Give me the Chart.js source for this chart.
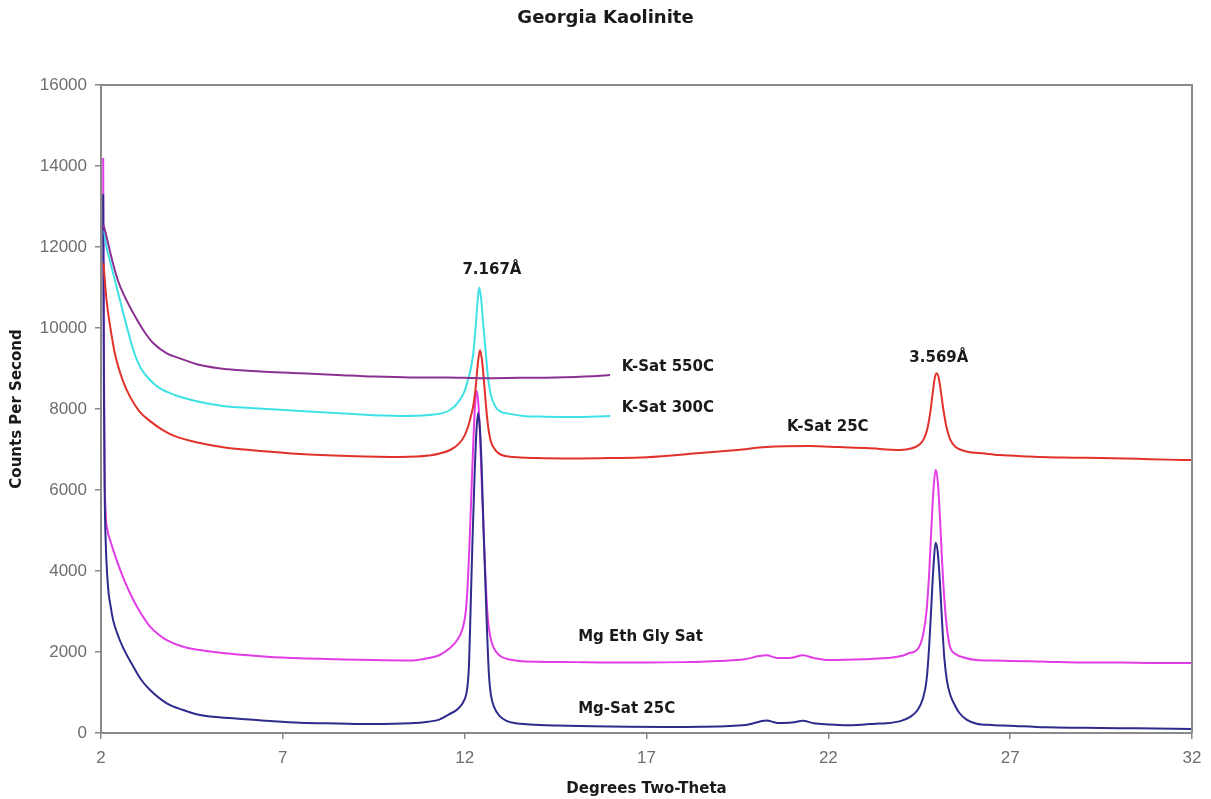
<!DOCTYPE html>
<html>
<head>
<meta charset="utf-8">
<script src="https://cdn.jsdelivr.net/npm/chart.js@4.4.0/dist/chart.umd.min.js"></script>
<style>
html,body{margin:0;padding:0;background:#ffffff;}
canvas{display:block;}
</style>
</head>
<body>
<canvas id="c" width="1211" height="799"></canvas>
<script>
// ---- texts ----
const chartTitle = "Georgia Kaolinite";
const xAxisTitle = "Degrees Two-Theta";
const yAxisTitle = "Counts Per Second";

// ---- tick labels ----
const xTicks = [2, 7, 12, 17, 22, 27, 32];
const yTicks = [0, 2000, 4000, 6000, 8000, 10000, 12000, 14000, 16000];

// ---- series: Mg-Sat 25C ----
const mgSat25X = [2.06, 2.08, 2.1, 2.13, 2.17, 2.21, 2.26, 2.33, 2.43, 2.61, 2.89, 3.1, 3.35, 3.81, 4.26, 4.72, 5.63, 6.56, 7.47, 8.5, 9.5, 10.5, 11.0, 11.3, 11.57, 11.82, 11.97, 12.07, 12.12, 12.17, 12.22, 12.27, 12.32, 12.37, 12.42, 12.47, 12.52, 12.57, 12.62, 12.67, 12.72, 12.82, 12.95, 13.15, 13.4, 13.8, 14.5, 15.5, 16.5, 17.5, 18.5, 19.3, 19.8, 20.1, 20.3, 20.6, 21.0, 21.3, 21.6, 22.0, 22.5, 23.0, 23.3, 23.6, 24.0, 24.25, 24.45, 24.6, 24.7, 24.77, 24.83, 24.89, 24.95, 25.01, 25.07, 25.13, 25.19, 25.26, 25.35, 25.5, 25.6, 25.8, 26.08, 26.5, 27.0, 28.0, 29.0, 30.0, 31.0, 32.0];
const mgSat25Y = [13300, 8500, 6000, 4700, 3900, 3450, 3150, 2800, 2500, 2100, 1637, 1320, 1062, 733, 568, 444, 363, 304, 255, 235, 220, 240, 280, 330, 460, 600, 780, 1100, 1700, 3300, 4900, 6300, 7400, 7900, 7500, 6500, 5000, 3700, 2400, 1400, 950, 620, 430, 300, 240, 210, 185, 165, 155, 150, 155, 175, 210, 280, 310, 250, 260, 300, 240, 210, 190, 210, 230, 240, 300, 400, 560, 850, 1300, 2100, 3100, 4100, 4700, 4450, 3700, 2700, 1850, 1300, 950, 650, 500, 330, 230, 200, 180, 140, 130, 120, 110, 100];

// ---- series: Mg Eth Gly Sat ----
const mgEthGlyX = [2.06, 2.08, 2.1, 2.13, 2.18, 2.25, 2.43, 2.65, 2.89, 3.1, 3.35, 3.6, 3.81, 4.26, 4.72, 5.63, 6.56, 7.47, 8.5, 9.5, 10.5, 11.0, 11.3, 11.57, 11.8, 11.95, 12.03, 12.08, 12.13, 12.18, 12.23, 12.28, 12.33, 12.38, 12.43, 12.48, 12.53, 12.58, 12.63, 12.7, 12.8, 12.95, 13.2, 13.5, 14.0, 15.0, 16.0, 17.0, 18.0, 19.0, 19.7, 20.1, 20.3, 20.6, 21.0, 21.3, 21.6, 22.0, 23.0, 23.6, 24.0, 24.25, 24.44, 24.6, 24.7, 24.77, 24.83, 24.89, 24.95, 25.01, 25.07, 25.13, 25.19, 25.26, 25.34, 25.5, 25.7, 26.08, 26.5, 27.0, 28.0, 29.0, 30.0, 31.0, 32.0];
const mgEthGlyY = [14200, 9500, 6500, 5400, 5000, 4765, 4270, 3750, 3284, 2950, 2625, 2420, 2296, 2131, 2049, 1950, 1884, 1844, 1820, 1800, 1790, 1850, 1920, 2080, 2300, 2600, 3000, 3600, 4600, 5800, 7000, 8000, 8450, 8100, 7200, 5900, 4800, 3700, 2900, 2400, 2100, 1920, 1820, 1780, 1760, 1750, 1740, 1740, 1750, 1780, 1820, 1900, 1920, 1850, 1860, 1920, 1850, 1800, 1820, 1850, 1900, 1980, 2050, 2400, 3000, 3900, 5000, 6000, 6500, 6200, 5300, 4200, 3300, 2600, 2150, 1950, 1870, 1800, 1790, 1780, 1760, 1740, 1740, 1730, 1730];

// ---- series: K-Sat 25C ----
const kSat25X = [2.07, 2.12, 2.17, 2.25, 2.38, 2.6, 2.8, 3.05, 3.35, 3.7, 4.03, 4.72, 5.4, 6.1, 7.47, 8.8, 10.22, 11.0, 11.6, 11.85, 12.0, 12.1, 12.18, 12.25, 12.31, 12.36, 12.42, 12.47, 12.52, 12.58, 12.64, 12.72, 12.85, 13.0, 13.33, 14.0, 15.0, 16.0, 17.0, 18.47, 19.5, 20.3, 21.5, 22.3, 23.06, 23.97, 24.3, 24.5, 24.62, 24.72, 24.8, 24.87, 24.93, 24.98, 25.04, 25.1, 25.17, 25.25, 25.35, 25.5, 25.8, 26.3, 26.7, 27.5, 28.5, 29.5, 30.5, 31.3, 32.0];
const kSat25Y = [11600, 11000, 10550, 10050, 9375, 8700, 8300, 7950, 7700, 7480, 7330, 7160, 7050, 6988, 6889, 6840, 6815, 6850, 6988, 7150, 7350, 7580, 7850, 8150, 8600, 9100, 9450, 9250, 8800, 8150, 7600, 7200, 6980, 6870, 6815, 6790, 6780, 6790, 6810, 6914, 6990, 7062, 7086, 7060, 7037, 6988, 7030, 7120, 7250, 7500, 7900, 8400, 8780, 8880, 8750, 8400, 7950, 7550, 7250, 7060, 6950, 6900, 6864, 6830, 6800, 6790, 6770, 6750, 6740];

// ---- series: K-Sat 300C ----
const kSat300X = [2.09, 2.14, 2.25, 2.34, 2.52, 2.71, 2.89, 3.1, 3.35, 3.6, 4.03, 4.72, 5.4, 6.1, 7.47, 8.8, 10.22, 11.0, 11.6, 11.85, 12.0, 12.1, 12.18, 12.24, 12.3, 12.35, 12.4, 12.45, 12.51, 12.58, 12.64, 12.72, 12.85, 13.0, 13.25, 13.6, 14.2, 15.0, 16.0];
const kSat300Y = [12400, 12050, 11650, 11330, 10691, 10033, 9450, 9000, 8716, 8520, 8346, 8173, 8070, 8025, 7950, 7880, 7827, 7850, 7975, 8200, 8450, 8750, 9050, 9400, 10000, 10600, 11000, 10750, 10100, 9400, 8800, 8350, 8050, 7930, 7880, 7830, 7810, 7800, 7827];

// ---- series: K-Sat 550C ----
const kSat550X = [2.07, 2.14, 2.24, 2.34, 2.47, 2.61, 2.89, 3.16, 3.44, 3.81, 4.17, 4.72, 5.5, 6.5, 7.5, 8.5, 9.5, 10.5, 11.5, 12.5, 13.5, 14.5, 15.5, 16.0];
const kSat550Y = [12550, 12300, 11920, 11560, 11160, 10856, 10362, 9951, 9622, 9375, 9251, 9086, 8980, 8920, 8880, 8840, 8800, 8780, 8780, 8760, 8770, 8780, 8810, 8840];

// ---- in-plot labels (text, then anchor in data units) ----
const labelTexts = ["7.167Å", "3.569Å", "K-Sat 550C", "K-Sat 300C", "K-Sat 25C", "Mg Eth Gly Sat", "Mg-Sat 25C"];
const labelAnchors = [
  {x: 12.75, y: 11430, align: 'center'},
  {x: 25.04, y: 9260, align: 'center'},
  {x: 16.32, y: 9040, align: 'left'},
  {x: 16.32, y: 8025, align: 'left'},
  {x: 20.86, y: 7545, align: 'left'},
  {x: 15.12, y: 2370, align: 'left'},
  {x: 15.12, y: 600, align: 'left'}
];

function pts(xs, ys) { return xs.map((v, i) => ({x: v, y: ys[i]})); }

const overlay = {
  id: 'overlay',
  afterDraw(chart) {
    const ctx = chart.ctx, a = chart.chartArea, xs = chart.scales.x, ys = chart.scales.y;
    ctx.save();
    ctx.strokeStyle = '#8a8a8a';
    ctx.lineWidth = 2;
    ctx.beginPath();
    ctx.moveTo(a.left, a.top);
    ctx.lineTo(a.right, a.top);
    ctx.lineTo(a.right, a.bottom);
    ctx.stroke();
    ctx.fillStyle = '#1a1a1a';
    ctx.textBaseline = 'middle';
    ctx.textAlign = 'center';
    ctx.font = 'bold 18px "DejaVu Sans"';
    ctx.fillText(chartTitle, chart.width / 2, 18);
    ctx.font = 'bold 15px "DejaVu Sans"';
    ctx.fillText(xAxisTitle, (a.left + a.right) / 2, 789);
    ctx.save();
    ctx.translate(17, (a.top + a.bottom) / 2);
    ctx.rotate(-Math.PI / 2);
    ctx.fillText(yAxisTitle, 0, 0);
    ctx.restore();
    ctx.font = 'bold 15px "DejaVu Sans"';
    labelTexts.forEach((t, i) => {
      const an = labelAnchors[i];
      ctx.textAlign = an.align;
      ctx.fillText(t, xs.getPixelForValue(an.x), ys.getPixelForValue(an.y));
    });
    ctx.restore();
  }
};

const tickFont = {family: '"Liberation Sans", Arial, sans-serif', size: 17};
const common = {
  grid: {display: true, drawOnChartArea: false, drawTicks: true, tickLength: 6, color: '#8a8a8a', lineWidth: 1.5},
  border: {display: true, color: '#8a8a8a', width: 2}
};

const line = (label, xs, ys, color) => ({
  label, data: pts(xs, ys), borderColor: color, backgroundColor: color,
  borderWidth: 2, pointRadius: 0, fill: false, cubicInterpolationMode: 'monotone'
});

new Chart(document.getElementById('c'), {
  type: 'line',
  data: {
    datasets: [
      line('K-Sat 550C', kSat550X, kSat550Y, '#8a3191'),
      line('K-Sat 300C', kSat300X, kSat300Y, '#3ee2e6'),
      line('K-Sat 25C', kSat25X, kSat25Y, '#e0322b'),
      line('Mg-Sat 25C', mgSat25X, mgSat25Y, '#2e2b8c'),
      line('Mg Eth Gly Sat', mgEthGlyX, mgEthGlyY, '#e23ce6')
    ]
  },
  options: {
    responsive: false,
    animation: false,
    layout: {padding: {top: 85, right: 19, left: 0, bottom: 0}},
    plugins: {legend: {display: false}, title: {display: false}, tooltip: {enabled: false}},
    scales: {
      x: {
        type: 'linear', min: 2, max: 32,
        afterBuildTicks: s => { s.ticks = xTicks.map(v => ({value: v})); },
        afterFit: s => { s.height = 66; s.paddingLeft = 0; s.paddingRight = 0; },
        ticks: {color: '#6e6e6e', font: tickFont, padding: 9, maxRotation: 0, autoSkip: false, callback: v => String(v)},
        ...common
      },
      y: {
        type: 'linear', min: 0, max: 16000,
        afterBuildTicks: s => { s.ticks = yTicks.map(v => ({value: v})); },
        afterFit: s => { s.width = 101; s.paddingTop = 0; s.paddingBottom = 0; },
        ticks: {color: '#6e6e6e', font: tickFont, padding: 8, autoSkip: false, callback: v => String(v)},
        ...common
      }
    }
  },
  plugins: [overlay]
});
</script>
</body>
</html>
